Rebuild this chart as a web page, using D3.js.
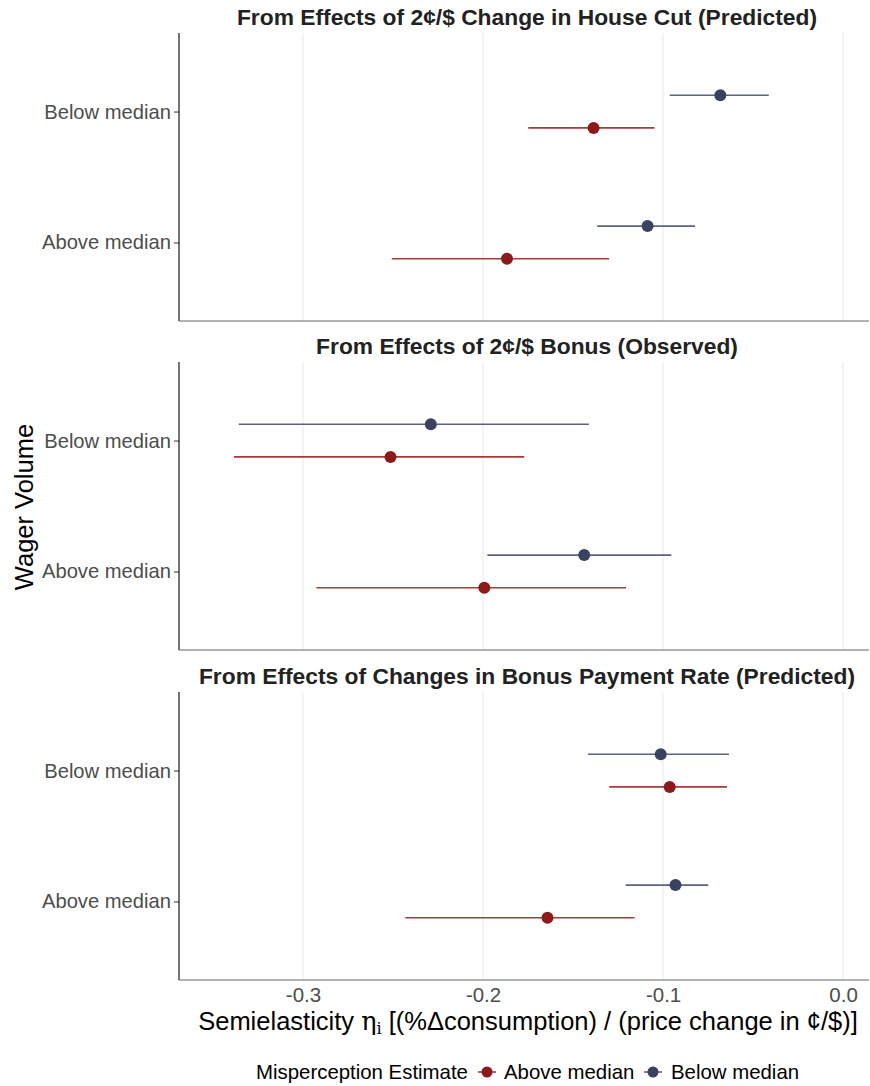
<!DOCTYPE html>
<html><head><meta charset="utf-8">
<script src="https://cdn.jsdelivr.net/npm/d3@7"></script>
<style>
body{margin:0;background:#fff;}
text{font-family:"Liberation Sans","Helvetica",Arial,sans-serif;}
</style></head>
<body>
<svg id="chart" width="870" height="1086"></svg>
<script>
const panelTitles = [
  "From Effects of 2¢/$ Change in House Cut (Predicted)",
  "From Effects of 2¢/$ Bonus (Observed)",
  "From Effects of Changes in Bonus Payment Rate (Predicted)"
];
const wagerGroups = ["Below median", "Above median"];
const misperception = ["Above median", "Below median"];
// [panel][wagerGroup]
const estAbove  = [[-0.1386, -0.1867], [-0.2514, -0.1993], [-0.0963, -0.1642]];
const lowAbove  = [[-0.1749, -0.2507], [-0.3384, -0.2926], [-0.1299, -0.2432]];
const highAbove = [[-0.1048, -0.1300], [-0.1771, -0.1206], [-0.0645, -0.1158]];
const estBelow  = [[-0.0682, -0.1086], [-0.2290, -0.1438], [-0.1013, -0.0931]];
const lowBelow  = [[-0.0963, -0.1366], [-0.3357, -0.1976], [-0.1417, -0.1208]];
const highBelow = [[-0.0413, -0.0822], [-0.1412, -0.0954], [-0.0634, -0.0749]];
const xTicks = [-0.3, -0.2, -0.1, 0.0];
const xDomain = [-0.3689, 0.0144];

const colors = {"Above median": "#8b1a1a", "Below median": "#3b4161"};
const lineColors = {"Above median": "#a93a3a", "Below median": "#5c6280"};

const svg = d3.select("#chart");
const left = 179, right = 869;
const panelTops = [33, 362, 692];
const panelH = 288;

const x = d3.scaleLinear().domain(xDomain).range([left, right]);

const rows = [];
panelTitles.forEach((t, p) => {
  wagerGroups.forEach((g, gi) => {
    rows.push({p, group: g, series: "Above median", est: estAbove[p][gi], lo: lowAbove[p][gi], hi: highAbove[p][gi]});
    rows.push({p, group: g, series: "Below median", est: estBelow[p][gi], lo: lowBelow[p][gi], hi: highBelow[p][gi]});
  });
});

panelTitles.forEach((title, p) => {
  const top = panelTops[p], bottom = top + panelH;
  const y = d3.scalePoint().domain(wagerGroups).range([top, bottom]).padding(0.6);
  const dodge = d3.scalePoint().domain(["Below median", "Above median"]).range([-y.step() * 0.125, y.step() * 0.125]);
  const g = svg.append("g");

  g.selectAll("line.grid").data(xTicks).join("line")
    .attr("x1", d => x(d)).attr("x2", d => x(d))
    .attr("y1", top).attr("y2", bottom)
    .attr("stroke", "#ebebeb").attr("stroke-width", 1.1);

  g.append("text").attr("x", (left + right) / 2 + 3).attr("y", top - 8)
    .attr("text-anchor", "middle").attr("font-weight", "bold")
    .attr("font-size", 22.8).attr("fill", "#222").text(title);

  const yAxis = d3.axisLeft(y).tickSize(5).tickPadding(3);
  const ya = g.append("g").attr("transform", `translate(${left},0)`).call(yAxis);
  ya.select(".domain").remove();
  ya.selectAll(".tick line").attr("stroke", "#444").attr("stroke-width", 1.1);
  ya.selectAll(".tick text").attr("font-size", 20.2).attr("fill", "#4d4d4d")
    .style("font-family", "'Liberation Sans', Helvetica, Arial, sans-serif");
  g.append("line").attr("x1", left).attr("x2", left).attr("y1", top).attr("y2", bottom)
    .attr("stroke", "#000").attr("stroke-width", 1.1);

  g.append("line").attr("x1", left).attr("x2", right).attr("y1", bottom).attr("y2", bottom)
    .attr("stroke", "#666").attr("stroke-width", 1.1);

  if (p === 2) {
    const xa = g.append("g").attr("transform", `translate(0,${bottom})`)
      .call(d3.axisBottom(x).tickValues(xTicks).tickSize(0).tickPadding(7).tickFormat(d => d.toFixed(1)));
    xa.select(".domain").remove();
    xa.selectAll(".tick text").attr("font-size", 20.5).attr("fill", "#4d4d4d")
      .style("font-family", "'Liberation Sans', Helvetica, Arial, sans-serif");
  }

  const pr = rows.filter(r => r.p === p);
  const cy = r => y(r.group) + dodge(r.series);
  g.selectAll("line.err").data(pr).join("line")
    .attr("x1", r => x(r.lo)).attr("x2", r => x(r.hi))
    .attr("y1", cy).attr("y2", cy)
    .attr("stroke", r => lineColors[r.series]).attr("stroke-width", 1.6);
  g.selectAll("circle.pt").data(pr).join("circle")
    .attr("cx", r => x(r.est)).attr("cy", cy).attr("r", 6)
    .attr("fill", r => colors[r.series]);
});

svg.append("text").attr("transform", `translate(33,507) rotate(-90)`)
  .attr("text-anchor", "middle").attr("font-size", 25.5).attr("fill", "#000").text("Wager Volume");

const xt = svg.append("text").attr("x", (left + right) / 2 + 4).attr("y", 1030)
  .attr("text-anchor", "middle").attr("font-size", 25.5).attr("fill", "#000");
xt.append("tspan").text("Semielasticity ");
xt.append("tspan").attr("font-family", "'DejaVu Serif', 'Liberation Serif', serif").text("η");
xt.append("tspan").attr("font-size", 16).attr("dy", 4).attr("font-family", "'DejaVu Serif', 'Liberation Serif', serif").text("i");
xt.append("tspan").attr("dy", -4).text(" [(%Δconsumption) / (price change in ¢/$)]");

const leg = svg.append("g").attr("transform", "translate(0,1072)");
leg.append("text").attr("x", 256).attr("y", 7).attr("font-size", 20.4).attr("fill", "#000").text("Misperception Estimate");
const legPos = [{s: "Above median", gx: 487, tx: 504}, {s: "Below median", gx: 653, tx: 671}];
legPos.forEach(l => {
  leg.append("line").attr("x1", l.gx - 9).attr("x2", l.gx + 9).attr("y1", 0).attr("y2", 0)
    .attr("stroke", lineColors[l.s]).attr("stroke-width", 1.6);
  leg.append("circle").attr("cx", l.gx).attr("cy", 0).attr("r", 5.5).attr("fill", colors[l.s]);
  leg.append("text").attr("x", l.tx).attr("y", 7).attr("font-size", 20.4).attr("fill", "#000").text(l.s);
});
</script>
</body></html>
